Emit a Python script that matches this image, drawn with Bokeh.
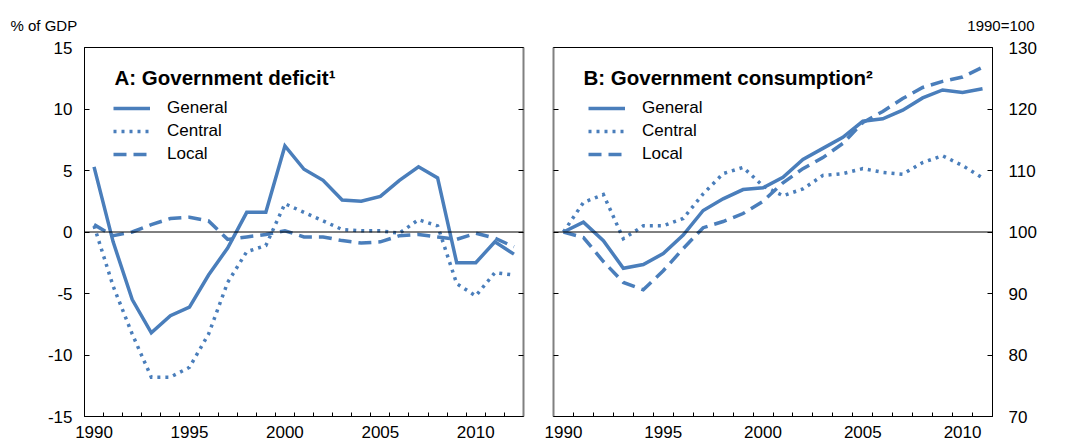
from bokeh.plotting import figure
from bokeh.layouts import row
from bokeh.models import (LinearAxis, FixedTicker, Span, Label, Legend, LegendItem,
                          Range1d, Title)
from bokeh.embed import file_html
from bokeh.resources import INLINE

# ---------------- data ----------------
years_a = list(range(1990, 2013))
general_a = [5.3, -0.8, -5.5, -8.2, -6.8, -6.1, -3.5, -1.3, 1.6, 1.6, 7.0, 5.1,
             4.2, 2.6, 2.5, 2.9, 4.2, 5.3, 4.4, -2.5, -2.5, -0.8, -1.8]
central_a = [0.5, -4.4, -8.3, -11.8, -11.8, -11.0, -8.3, -4.1, -1.6, -1.1, 2.3, 1.6,
             0.9, 0.2, 0.1, 0.1, -0.1, 1.0, 0.5, -4.2, -5.2, -3.3, -3.5]
local_a = [0.6, -0.3, 0.0, 0.6, 1.1, 1.2, 0.9, -0.6, -0.4, -0.2, 0.1, -0.4,
           -0.4, -0.7, -0.9, -0.8, -0.3, -0.2, -0.4, -0.6, -0.1, -0.5, -1.2]

years_b = list(range(1990, 2012))
general_b = [100, 101.6, 98.6, 94.1, 94.7, 96.5, 99.5, 103.5, 105.4, 106.9, 107.2,
             108.9, 111.8, 113.6, 115.4, 118.0, 118.4, 119.8, 121.8, 123.1, 122.7, 123.3]
central_b = [100, 104.8, 106.1, 98.9, 101.0, 101.0, 102.2, 106.2, 109.5, 110.5, 107.5,
             105.9, 107.0, 109.2, 109.5, 110.3, 109.7, 109.4, 111.3, 112.4, 110.8, 108.8]
local_b = [100, 99.1, 95.2, 91.8, 90.6, 93.7, 97.3, 100.7, 101.7, 103.0, 105.0,
           108.0, 110.3, 112.1, 114.4, 117.8, 119.6, 121.7, 123.5, 124.5, 125.2, 126.8]

series_names = ["General", "Central", "Local"]
x_tick_years = [1990, 1995, 2000, 2005, 2010]
y_ticks_a = [-15, -10, -5, 0, 5, 10, 15]
y_labels_a = ["-15", "-10", "-5", "0", "5", "10", "15"]
y_ticks_b = [70, 80, 90, 100, 110, 120, 130]
y_labels_b = ["70", "80", "90", "100", "110", "120", "130"]
title_a = "A: Government deficit\u00b9"
title_b = "B: Government consumption\u00b2"
unit_a = "% of GDP"
unit_b = "1990=100"

# ---------------- style ----------------
FONT = "Liberation Sans"
BLUE = "#4a7ebb"
LW = 3.5
DASHES = ["solid", "3 5", "13 7"]
FRAME_W = 439
FRAME_H = 369
TOP = 47
BOTTOM = 25


def style_x_axis(ax, years):
    ax.ticker = FixedTicker(ticks=x_tick_years,
                            minor_ticks=[y + 0.5 for y in years[:-1]])
    ax.major_tick_in = 0
    ax.major_tick_out = 0
    ax.minor_tick_in = 4
    ax.minor_tick_out = 0
    ax.minor_tick_line_color = "black"
    ax.axis_line_color = "black"
    ax.major_label_text_font = FONT
    ax.major_label_text_font_size = "17px"
    ax.major_label_text_color = "black"
    ax.major_label_standoff = 9


def style_y_axis(ax, ticks, labels, show_labels, standoff, line_color="black", lw=1):
    ax.ticker = FixedTicker(ticks=ticks, minor_ticks=[])
    if show_labels:
        ax.major_label_overrides = {t: l for t, l in zip(ticks, labels)}
        ax.major_label_standoff = standoff
    else:
        ax.major_label_overrides = {t: "" for t in ticks}
        ax.major_label_standoff = 0
    ax.major_tick_in = 5
    ax.major_tick_out = 0
    ax.minor_tick_in = 0
    ax.minor_tick_out = 0
    ax.axis_line_color = line_color
    ax.axis_line_width = lw
    ax.major_tick_line_color = "black"
    ax.major_label_text_font = FONT
    ax.major_label_text_color = "black"
    ax.major_label_text_font_size = "17px"


def make_panel(years, series, y_range, yticks, ylabels, title, unit, left_labels,
               width, bl, br, legend_x):
    p = figure(width=width, height=TOP + FRAME_H + BOTTOM, output_backend="svg",
               toolbar_location=None, title=None,
               x_range=Range1d(years[0] - 0.5, years[-1] + 0.5),
               y_range=Range1d(*y_range),
               min_border_left=bl, min_border_right=br,
               min_border_top=TOP, min_border_bottom=BOTTOM,
               y_axis_location="left")
    p.xgrid.visible = False
    p.ygrid.visible = False
    p.outline_line_color = "black"
    p.background_fill_color = "white"
    p.border_fill_color = "white"

    style_x_axis(p.xaxis[0], years)
    style_y_axis(p.yaxis[0], yticks, ylabels, left_labels, 12,
                 line_color="black" if left_labels else "#808080",
                 lw=1 if left_labels else 2)
    right = LinearAxis()
    p.add_layout(right, "right")
    style_y_axis(right, yticks, ylabels, not left_labels, 16,
                 line_color="#808080" if left_labels else "black",
                 lw=2 if left_labels else 1)

    base = 0 if y_range[0] < 0 else 100
    p.add_layout(Span(location=base, dimension="width", line_color="black",
                      line_width=1))

    items = []
    for name, vals, dash in zip(series_names, series, DASHES):
        r = p.line(years, vals, line_color=BLUE, line_width=LW, line_dash=dash,
                   line_cap="butt", line_join="miter")
        items.append(LegendItem(label=name, renderers=[r]))

    leg = Legend(items=items, location=(legend_x, 252), orientation="vertical",
                 padding=0, margin=0, spacing=3, glyph_width=37, glyph_height=20,
                 label_standoff=17, label_height=20,
                 label_text_font=FONT, label_text_font_size="17px",
                 label_text_color="black", border_line_alpha=0,
                 background_fill_alpha=0)
    p.add_layout(leg)

    # panel title inside the frame
    xpx = (years[-1] - years[0] + 1) / FRAME_W   # data units per pixel (x)
    ypx = (y_range[1] - y_range[0]) / FRAME_H     # data units per pixel (y)
    p.add_layout(Label(x=years[0] - 0.5 + 30 * xpx, y=y_range[1] - 30 * ypx,
                       text=title, text_font=FONT, text_font_size="20.5px",
                       text_font_style="bold", text_color="black",
                       text_baseline="middle", text_align="left"))
    # unit label above the frame
    if left_labels:
        t = Title(text=unit, align="left", offset=-74, standoff=27,
                  text_font=FONT, text_font_size="15px", text_font_style="normal",
                  text_color="black")
    else:
        t = Title(text=unit, align="right", offset=-42, standoff=27,
                  text_font=FONT, text_font_size="15px", text_font_style="normal",
                  text_color="black")
    p.add_layout(t, "above")
    return p


pA = make_panel(years_a, [general_a, central_a, local_a], (-15, 15), y_ticks_a,
                y_labels_a, title_a, unit_a, True, 84 + FRAME_W + 15, 84, 15, 29)
pB = make_panel(years_b, [general_b, central_b, local_b], (70, 130), y_ticks_b,
                y_labels_b, title_b, unit_b, False, 15 + FRAME_W + 70, 15, 70, 35)

layout = row(pA, pB, spacing=0)
open("out.html", "w").write(file_html(layout, INLINE))
